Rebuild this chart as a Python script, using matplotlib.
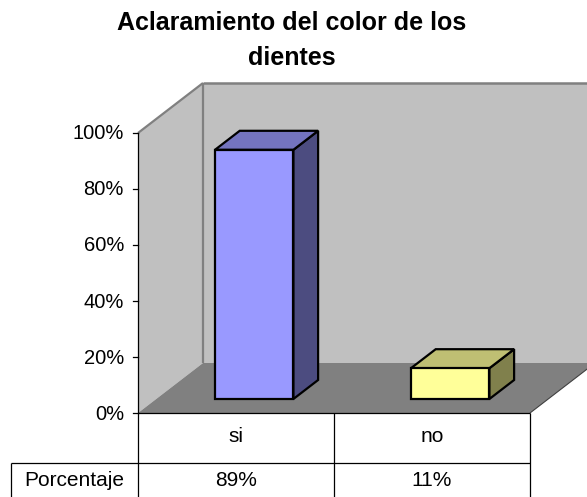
import matplotlib
matplotlib.use('Agg')
import matplotlib.pyplot as plt
from matplotlib.patches import Polygon

# data
categories = ['si', 'no']
porcentaje = [89, 11]
y_ticks = [0, 20, 40, 60, 80, 100]
row_label = 'Porcentaje'
title = 'Aclaramiento del color de los\ndientes'

# colours of each bar: front, top, side
front_colors = ['#9999FF', '#FFFF99']
top_colors = ['#7474BF', '#BFBF73']
side_colors = ['#4C4C80', '#80804C']

plt.rcParams['font.family'] = ['Liberation Sans', 'DejaVu Sans']

# layout in pixels
W, H = 587, 497
X0, Y0 = 138, 413        # front-left corner of the floor
CAT_W = 196              # px per category
PCT_H = 2.8              # px per percent
DEPTH_X, DEPTH_Y = 65, 50
ROW_H = 50               # table row height
LABEL_X = 10.5           # left edge of the row label cell

fig = plt.figure(figsize=(W / 100, H / 100), dpi=100)
ax = fig.add_axes([0, 0, 1, 1])
ax.set_xlim(-X0 / CAT_W, (W - X0) / CAT_W)
ax.set_ylim(-(H - Y0) / PCT_H, Y0 / PCT_H)
ax.axis('off')

DX = DEPTH_X / CAT_W
DY = DEPTH_Y / PCT_H
n = len(categories)
top = y_ticks[-1]


def proj(x, y, d):
    return (x + d * DX, y + d * DY)


def face(pts, color, **kwargs):
    ax.add_patch(Polygon([proj(*p) for p in pts], closed=True,
                         facecolor=color, **kwargs))


def line(p1, p2, **kwargs):
    a, b = proj(*p1), proj(*p2)
    ax.plot([a[0], b[0]], [a[1], b[1]], solid_capstyle='butt', **kwargs)


# walls and floor
face([(0, 0, 0), (0, top, 0), (0, top, 1), (0, 0, 1)], '#C0C0C0', edgecolor='none')
face([(0, 0, 1), (0, top, 1), (n + 0.5, top, 1), (n + 0.5, 0, 1)], '#C0C0C0', edgecolor='none')
face([(0, 0, 0), (n, 0, 0), (n, 0, 1), (0, 0, 1)], '#808080', edgecolor='none')
line((0, top, 0), (0, top, 1), color='#808080', lw=1.6)
line((0, 0, 1), (0, top, 1), color='#808080', lw=1.6)
line((0, top, 1), (n + 0.5, top, 1), color='#808080', lw=1.8)
line((n, 0, 0), (n, 0, 1), color='#404040', lw=0.8)

# value axis
ax.plot([0, 0], [0, top], color='black', lw=0.9)
for t in y_ticks:
    ax.plot([-5 / CAT_W, 0], [t, t], color='black', lw=0.9)
    ax.text(-14 / CAT_W, t - 6.5 / PCT_H, f'{t}%', ha='right', va='baseline', fontsize=14.5)

# bars
d0, d1 = 0.28, 0.66
half = 0.2
for i, v in enumerate(porcentaje):
    x0, x1 = i + 0.5 - half, i + 0.5 + half
    kw = dict(edgecolor='black', lw=1.6, joinstyle='miter')
    face([(x1, 0, d0), (x1, v, d0), (x1, v, d1), (x1, 0, d1)], side_colors[i], **kw)
    face([(x0, v, d0), (x1, v, d0), (x1, v, d1), (x0, v, d1)], top_colors[i], **kw)
    face([(x0, 0, d0), (x1, 0, d0), (x1, v, d0), (x0, v, d0)], front_colors[i], **kw)

# data table
row = ROW_H / PCT_H
bottom = -(H - Y0) / PCT_H - 1
lx = (LABEL_X - X0) / CAT_W
tkw = dict(color='black', lw=0.9, solid_capstyle='butt')
ax.plot([0, n], [0, 0], **tkw)
ax.plot([lx, n], [-row, -row], **tkw)
ax.plot([lx, lx], [-row, bottom], **tkw)
for i in range(n + 1):
    ax.plot([i, i], [0, bottom], **tkw)
for i, (c, v) in enumerate(zip(categories, porcentaje)):
    ax.text(i + 0.5, -28.7 / PCT_H, c, ha='center', va='baseline', fontsize=15)
    ax.text(i + 0.5, -73 / PCT_H, f'{v}%', ha='center', va='baseline', fontsize=15)
ax.text(lx / 2, -73 / PCT_H, row_label, ha='center', va='baseline', fontsize=15)

fig.text(0.497, 1 - 11 / H, title, ha='center', va='top', fontsize=18,
         fontweight='bold', linespacing=1.6)

fig.savefig('out.png', dpi=100)
